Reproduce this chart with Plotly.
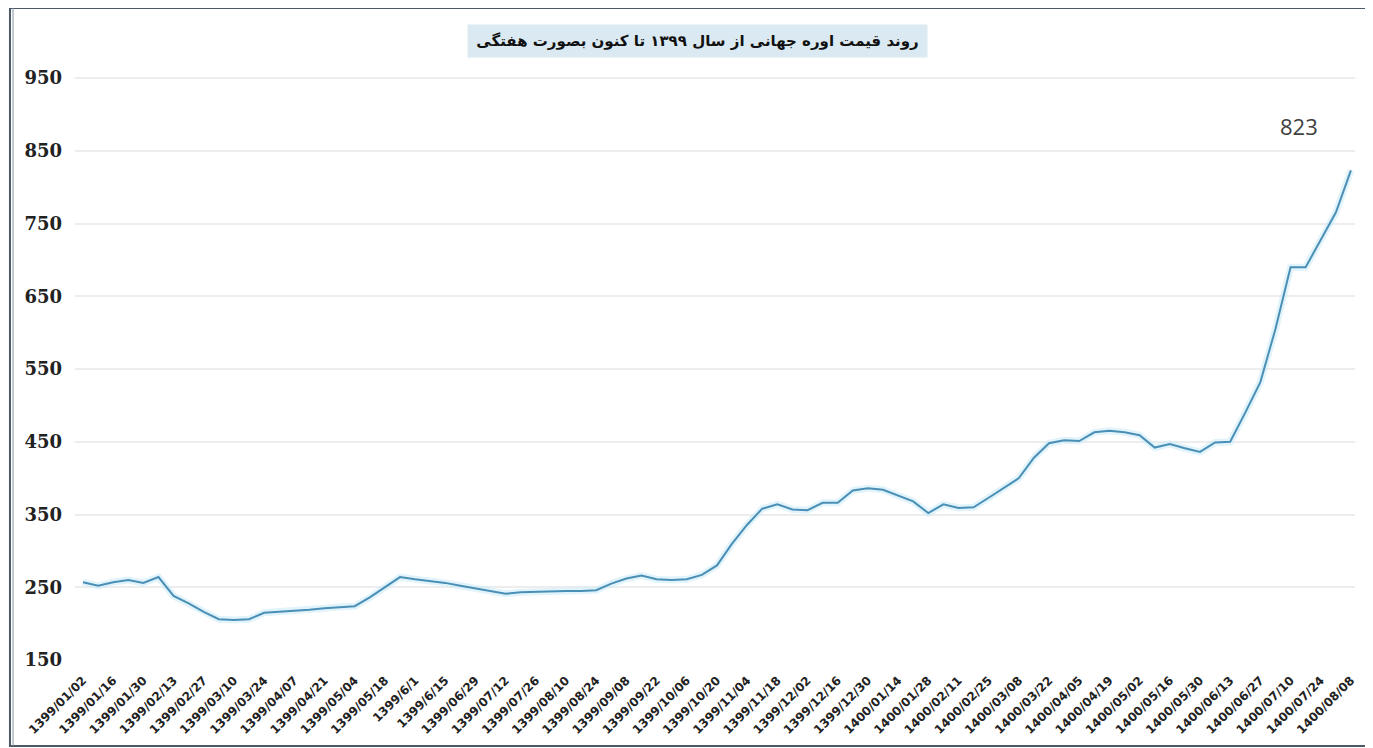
import plotly.graph_objects as go

# Weekly dates (Solar Hijri calendar)
dates = [
    "1399/01/02", "1399/01/09", "1399/01/16", "1399/01/23", "1399/01/30",
    "1399/02/06", "1399/02/13", "1399/02/20", "1399/02/27", "1399/03/03",
    "1399/03/10", "1399/03/17", "1399/03/24", "1399/03/31", "1399/04/07",
    "1399/04/14", "1399/04/21", "1399/04/28", "1399/05/04", "1399/05/11",
    "1399/05/18", "1399/05/25", "1399/6/1", "1399/06/08", "1399/6/15",
    "1399/06/22", "1399/06/29", "1399/07/05", "1399/07/12", "1399/07/19",
    "1399/07/26", "1399/08/03", "1399/08/10", "1399/08/17", "1399/08/24",
    "1399/09/01", "1399/09/08", "1399/09/15", "1399/09/22", "1399/09/29",
    "1399/10/06", "1399/10/13", "1399/10/20", "1399/10/27", "1399/11/04",
    "1399/11/11", "1399/11/18", "1399/11/25", "1399/12/02", "1399/12/09",
    "1399/12/16", "1399/12/23", "1399/12/30", "1400/01/07", "1400/01/14",
    "1400/01/21", "1400/01/28", "1400/02/04", "1400/02/11", "1400/02/18",
    "1400/02/25", "1400/03/01", "1400/03/08", "1400/03/15", "1400/03/22",
    "1400/03/29", "1400/04/05", "1400/04/12", "1400/04/19", "1400/04/26",
    "1400/05/02", "1400/05/09", "1400/05/16", "1400/05/23", "1400/05/30",
    "1400/06/06", "1400/06/13", "1400/06/20", "1400/06/27", "1400/07/03",
    "1400/07/10", "1400/07/17", "1400/07/24", "1400/08/01", "1400/08/08",
]

# Urea price (USD/ton), weekly
prices = [
    257, 252, 257, 260, 256, 264, 238, 228, 216, 206,
    205, 206, 215, 216, 217, 219, 221, 223, 224, 236,
    250, 264, 261, 259, 256, 252, 248, 244, 241, 243,
    244, 245, 245, 245, 246, 255, 262, 266, 261, 260,
    261, 267, 280, 310, 336, 358, 364, 357, 356, 366,
    366, 383, 386, 384, 376, 368, 352, 364, 359, 360,
    373, 386, 400, 428, 448, 452, 451, 463, 465, 463,
    459, 442, 447, 441, 436, 449, 450, 490, 532, 605,
    690, 690, 728, 765, 823,
]

tick_labels = dates[::2]
y_ticks = [150, 250, 350, 450, 550, 650, 750, 850, 950]

title_text = "روند قیمت اوره جهانی از سال ۱۳۹۹ تا کنون بصورت هفتگی"

fig = go.Figure()

# soft glow under the line
fig.add_trace(go.Scatter(
    x=dates, y=prices, mode="lines",
    line=dict(color="rgba(200,234,248,0.55)", width=7),
    hoverinfo="skip", showlegend=False,
))
fig.add_trace(go.Scatter(
    x=dates, y=prices, mode="lines",
    line=dict(color="#4a8fb5", width=2),
    showlegend=False,
))

fig.add_annotation(
    x=dates[-1], y=prices[-1], xref="x", yref="y",
    text=str(prices[-1]), showarrow=False,
    xshift=-52, yshift=44,
    font=dict(family="Open Sans, Liberation Sans, sans-serif", size=22, color="#404040"),
)

fig.add_annotation(
    x=0.486, y=1.049, xref="paper", yref="paper",
    xanchor="center", yanchor="middle",
    text="<b>" + title_text + "</b>", showarrow=False,
    font=dict(family="DejaVu Sans, sans-serif", size=15, color="#111111"),
    bgcolor="#dbeaf2", borderpad=7, width=445,
)

# outer frame
fig.add_shape(
    type="rect", xref="paper", yref="paper",
    x0=-0.0508, x1=1.0117, y0=-0.1458, y1=1.105,
    line=dict(color="#4a5868", width=2),
)
fig.add_shape(
    type="line", xref="paper", yref="paper",
    x0=-0.0484, x1=-0.0484, y0=-0.1458, y1=1.105,
    line=dict(color="#8a96a3", width=1),
)

fig.update_layout(
    width=1365, height=740,
    margin=dict(l=67, r=18, t=62, b=88),
    paper_bgcolor="white", plot_bgcolor="white",
    xaxis=dict(
        type="category",
        range=[-0.53, 84.27],
        tickmode="array", tickvals=tick_labels, ticktext=tick_labels,
        tickangle=-45,
        tickfont=dict(family="DejaVu Sans, sans-serif", size=12, color="#222222", weight="bold"),
        showgrid=False, showline=False, zeroline=False, ticks="",
        ticklabelstandoff=10,
    ),
    yaxis=dict(
        range=[150, 961],
        tickvals=y_ticks,
        tickfont=dict(family="DejaVu Serif, serif", size=18, color="#222222", weight="bold"),
        gridcolor="#ededed", gridwidth=1.5,
        showline=False, zeroline=False, ticks="",
        ticklabelstandoff=12,
    ),
)

fig.write_html("out.html")
